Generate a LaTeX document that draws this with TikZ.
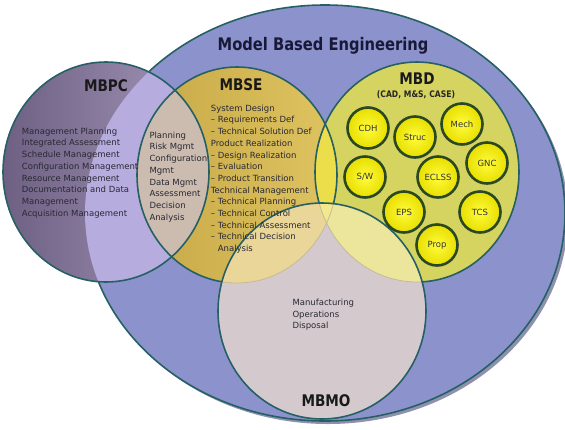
\documentclass[tikz,border=0pt]{standalone}
\usepackage{fontspec}
\setmainfont{DejaVu Sans}
\newfontfamily\headfont[FakeStretch=0.85]{DejaVu Sans}
\definecolor{mbe}{RGB}{140,147,204}
\definecolor{mbeshadow}{RGB}{92,98,140}
\definecolor{rim}{RGB}{38,96,100}
\definecolor{pcdark}{RGB}{110,96,130}
\definecolor{pclight}{RGB}{165,152,188}
\definecolor{pcin}{RGB}{182,172,222}
\definecolor{sedark}{RGB}{200,168,72}
\definecolor{selight}{RGB}{222,196,96}
\definecolor{pcse}{RGB}{204,188,176}
\definecolor{mbd}{RGB}{214,212,96}
\definecolor{sed}{RGB}{236,222,74}
\definecolor{mo}{RGB}{212,202,206}
\definecolor{mose}{RGB}{234,214,152}
\definecolor{mod}{RGB}{236,230,156}
\definecolor{modse}{RGB}{242,232,140}
\definecolor{faint}{RGB}{196,186,150}
\definecolor{subin}{RGB}{255,252,60}
\definecolor{subout}{RGB}{232,222,0}
\definecolor{subrim}{RGB}{42,72,34}
\definecolor{txt}{RGB}{40,40,52}
\definecolor{ttl}{RGB}{24,24,56}
\def\pE{(325,213) ellipse [x radius=240pt, y radius=208pt]}
\def\pPC{(106,172) ellipse [x radius=103pt, y radius=110pt]}
\def\pSE{(237,175) ellipse [x radius=100pt, y radius=108pt]}
\def\pD{(417,172) ellipse [x radius=102pt, y radius=110pt]}
\def\pMO{(322,311) ellipse [x radius=104pt, y radius=108pt]}
\tikzset{
  rimline/.style={draw=rim, line width=1.6pt},
  head/.style={font=\headfont\bfseries\fontsize{17.3}{20}\selectfont, text=ttl, inner sep=0pt},
  setlabel/.style={font=\headfont\bfseries\fontsize{16}{19}\selectfont, text=black!90, inner sep=0pt},
  sublabel/.style={font=\headfont\bfseries\fontsize{9}{11}\selectfont, text=black!85, inner sep=0pt},
  body/.style={font=\fontsize{8.5}{11.7}\selectfont, text=txt, align=left, inner sep=0pt, anchor=north west},
  sub/.style={circle, draw=subrim, line width=2.6pt, inner color=subin, outer color=subout,
    minimum size=41pt, inner sep=0pt, font=\fontsize{8.5}{10}\selectfont, text=black!80}
}
\begin{document}
\begin{tikzpicture}[x=1pt,y=-1pt]
\useasboundingbox (0,0) rectangle (565,429);
% big ellipse
\fill[mbeshadow, opacity=0.7] (328,216) ellipse [x radius=240pt, y radius=208pt];
\fill[mbe] \pE;
\draw[rimline] \pE;
% MBPC
\shade[left color=pcdark, right color=pclight] \pPC;
\begin{scope}\clip \pPC; \fill[pcin] \pE; \end{scope}
% MBSE
\shade[left color=sedark, right color=selight] \pSE;
\begin{scope}\clip \pPC; \fill[pcse] \pSE; \end{scope}
% MBD
\fill[mbd] \pD;
\begin{scope}\clip \pSE; \fill[sed] \pD; \end{scope}
\draw[rimline] \pPC;
\draw[rimline] \pSE;
\draw[rimline] \pD;
% MBMO
\fill[mo] \pMO;
\begin{scope}\clip \pMO; \fill[mose] \pSE; \end{scope}
\begin{scope}\clip \pMO; \fill[mod] \pD; \end{scope}
\begin{scope}\clip \pMO; \clip \pSE; \fill[modse] \pD; \end{scope}
\begin{scope}\clip \pMO; \draw[faint, line width=0.8pt] \pSE; \draw[faint, line width=0.8pt] \pD; \end{scope}
\draw[rimline] \pMO;
% subsystems
\node[sub] (cdh) at (368,128) {CDH};
\node[sub] (struc) at (415,137) {Struc};
\node[sub] (mech) at (462,124) {Mech};
\node[sub] (gnc) at (487,163) {GNC};
\node[sub] (sw) at (365,177) {S/W};
\node[sub] (eclss) at (438,177) {ECLSS};
\node[sub] (eps) at (404,212) {EPS};
\node[sub] (tcs) at (480,212) {TCS};
\node[sub] (prop) at (437,245) {Prop};
% labels
\node[head, anchor=base] (title) at (323,50) {Model Based Engineering};
\node[setlabel, anchor=base] (lpc) at (106,91.5) {MBPC};
\node[setlabel, anchor=base] (lse) at (241,90) {MBSE};
\node[setlabel, anchor=base] (ld) at (417,84) {MBD};
\node[sublabel, anchor=base] (ldsub) at (416,97.3) {(CAD, M\&S, CASE)};
\node[setlabel, anchor=base] (lmo) at (326,406) {MBMO};
% text blocks
\node[body] (tpc) at (21.7,127.6) {Management Planning\\Integrated Assessment\\Schedule Management\\Configuration Management\\Resource Management\\Documentation and Data\\Management\\Acquisition Management};
\node[body] (tpcse) at (149.3,131.6) {Planning\\Risk Mgmt\\Configuration\\Mgmt\\Data Mgmt\\Assessment\\Decision\\Analysis};
\node[body] (tse) at (210.7,104.6) {System Design\\– Requirements Def\\– Technical Solution Def\\Product Realization\\– Design Realization\\– Evaluation\\– Product Transition\\Technical Management\\– Technical Planning\\– Technical Control\\– Technical Assessment\\– Technical Decision\\\phantom{– }Analysis};
\node[body] (tmo) at (292.3,298.9) {Manufacturing\\Operations\\Disposal};
\end{tikzpicture}
\end{document}
